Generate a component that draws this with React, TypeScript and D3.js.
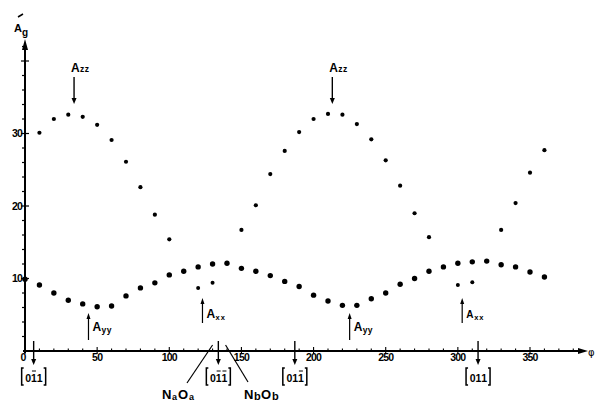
import React from "react";
import * as d3 from "d3";

const azzAngles = [10, 20, 30, 40, 50, 60, 70, 80, 90, 100, 150, 160, 170, 180, 190, 200, 210, 220, 230, 240, 250, 260, 270, 280, 330, 340, 350, 360];
const azzValues = [30.1, 32.0, 32.6, 32.3, 31.2, 29.1, 26.1, 22.6, 18.8, 15.4, 16.7, 20.1, 24.4, 27.6, 30.2, 32.0, 32.7, 32.6, 31.3, 29.2, 26.3, 22.8, 19.0, 15.7, 16.7, 20.4, 24.6, 27.7];

const lowAngles = [0, 10, 20, 30, 40, 50, 60, 70, 80, 90, 100, 110, 120, 130, 140, 150, 160, 170, 180, 190, 200, 210, 220, 230, 240, 250, 260, 270, 280, 290, 300, 310, 320, 330, 340, 350, 360];
const lowValues = [9.9, 9.1, 8.0, 7.0, 6.5, 6.1, 6.2, 7.6, 8.7, 9.4, 10.5, 11.0, 11.6, 12.0, 12.1, 11.4, 11.0, 10.4, 9.6, 8.9, 7.7, 6.9, 6.3, 6.3, 7.2, 8.0, 9.2, 10.0, 11.0, 11.6, 12.1, 12.3, 12.4, 11.9, 11.6, 10.9, 10.2];

const axxAngles = [120, 130, 300, 310];
const axxValues = [8.7, 9.4, 9.1, 9.5];

const xTickLabels = [0, 50, 100, 150, 200, 250, 300, 350];
const yTickLabels = [10, 20, 30];

const azzMarks = [34, 213];
const ayyMarks = [44, 225];
const axxMarks = [123, 303];

const dirAngles = [6, 134, 187, 314];
const dirLabels = [
  [["0", false], ["1", true], ["1", false]],
  [["0", false], ["1", true], ["1", true]],
  [["0", false], ["1", false], ["1", true]],
  [["0", false], ["1", false], ["1", false]],
] as [string, boolean][][];

export default function App() {
  const W = 596, H = 402;
  const x = d3.scaleLinear().domain([0, 350]).range([25, 530]);
  const y = d3.scaleLinear().domain([0, 30]).range([351, 133.5]);
  const x0 = x(0), yAxis = y(0);
  const font = "'Liberation Sans', Arial, sans-serif";

  const minorX = d3.range(0, 385, 10);
  const minorY = d3.range(2, 43, 2);

  const arrowDown = (px: number, y1: number, y2: number, key: string) => (
    <g key={key}>
      <line x1={px} x2={px} y1={y1} y2={y2 - 4} stroke="#000" strokeWidth={1.4} />
      <path d={`M${px - 2.5},${y2 - 6} L${px + 2.5},${y2 - 6} L${px},${y2} Z`} fill="#000" />
    </g>
  );
  const arrowUp = (px: number, y1: number, y2: number, key: string) => (
    <g key={key}>
      <line x1={px} x2={px} y1={y1 + 4} y2={y2} stroke="#000" strokeWidth={1.2} />
      <path d={`M${px - 2},${y1 + 6} L${px + 2},${y1 + 6} L${px},${y1} Z`} fill="#000" />
    </g>
  );

  return (
    <svg width={W} height={H} style={{ position: "absolute", left: 0, top: 0, background: "#fff" }} fontFamily={font}>
      <rect width={W} height={H} fill="#fff" />
      {/* y axis */}
      <line x1={x0} x2={x0} y1={yAxis + 2} y2={44} stroke="#000" strokeWidth={2} />
      <path d={`M${x0 - 3},${50} L${x0 + 3},${50} L${x0},${39} Z`} fill="#000" />
      {minorY.map((v) => (
        <line key={"my" + v} x1={x0 - (v % 10 === 0 ? 4 : 3)} x2={x0 + (v % 10 === 0 ? 4 : 0)} y1={y(v)} y2={y(v)} stroke="#000" strokeWidth={1.2} />
      ))}
      {yTickLabels.map((v) => (
        <text key={"yl" + v} x={x0 - 3} y={y(v) + 3.5} textAnchor="end" fontSize={10.5} fontWeight="bold" letterSpacing={-0.8}>{v}</text>
      ))}
      <text x={14} y={32} fontSize={11} fontWeight="bold">A</text>
      <text x={22} y={36} fontSize={10} fontWeight="bold">g</text>
      <path d="M18,17 L23,14" stroke="#000" strokeWidth={1.5} />

      {/* x axis */}
      <line x1={x0 - 2} x2={582} y1={yAxis} y2={yAxis} stroke="#000" strokeWidth={2} />
      <path d={`M${578},${yAxis - 3} L${578},${yAxis + 3} L${588},${yAxis} Z`} fill="#000" />
      {minorX.map((v) => (
        <line key={"mx" + v} x1={x(v)} x2={x(v)} y1={yAxis - (v % 50 === 0 ? 4 : 2.5)} y2={yAxis + (v % 50 === 0 ? 3 : 0)} stroke="#000" strokeWidth={1.1} />
      ))}
      {xTickLabels.map((v) => (
        <text key={"xl" + v} x={x(v) + (v === 0 ? -2 : 0)} y={yAxis + 10} textAnchor="middle" fontSize={10.5} fontWeight="bold" letterSpacing={-0.8}>{v}</text>
      ))}
      <text x={588} y={yAxis + 5} fontSize={10} fontFamily="'DejaVu Sans', sans-serif">φ</text>

      {/* data */}
      {azzAngles.map((a, i) => (
        <circle key={"az" + i} cx={x(a)} cy={y(azzValues[i])} r={2.1} fill="#000" />
      ))}
      {lowAngles.map((a, i) => (
        <circle key={"lo" + i} cx={x(a)} cy={y(lowValues[i])} r={2.7} fill="#000" />
      ))}
      {axxAngles.map((a, i) => (
        <circle key={"ax" + i} cx={x(a)} cy={y(axxValues[i])} r={2.0} fill="#000" />
      ))}

      {/* Azz annotations */}
      {azzMarks.map((a, i) => (
        <g key={"azz" + i}>
          <text x={x(a) - 3} y={72} fontSize={12} fontWeight="bold">A</text>
          <text x={x(a) + 6} y={72} fontSize={8.5} fontWeight="bold" letterSpacing={0.5}>zz</text>
          {arrowDown(x(a), 77, 104, "azza" + i)}
        </g>
      ))}
      {ayyMarks.map((a, i) => (
        <g key={"ayy" + i}>
          {arrowUp(x(a), 313, 340, "ayya" + i)}
          <text x={x(a) + 4} y={331} fontSize={12} fontWeight="bold">A</text>
          <text x={x(a) + 13} y={333} fontSize={8.5} fontWeight="bold" letterSpacing={0.5}>yy</text>
        </g>
      ))}
      {axxMarks.map((a, i) => (
        <g key={"axx" + i}>
          {arrowUp(x(a), 298, 323, "axxa" + i)}
          <text x={x(a) + 4} y={318} fontSize={i === 0 ? 12 : 10} fontWeight="bold">A</text>
          <text x={x(a) + (i === 0 ? 13 : 12)} y={320} fontSize={7.5} fontWeight="bold" letterSpacing={1}>xx</text>
        </g>
      ))}

      {/* direction markers */}
      {dirAngles.map((a, i) => {
        const px = x(a);
        const lab = dirLabels[i];
        const left = px - 12;
        return (
          <g key={"dir" + i}>
            {arrowDown(px, 341, 365, "da" + i)}
            <path d={`M${left + 2},368 L${left},368 L${left},385 L${left + 2},385`} fill="none" stroke="#000" strokeWidth={1.5} />
            <path d={`M${left + 22},368 L${left + 24},368 L${left + 24},385 L${left + 22},385`} fill="none" stroke="#000" strokeWidth={1.5} />
            {lab.map(([ch, bar], j) => (
              <g key={j}>
                <text x={left + 6.5 + j * 5.8} y={381.5} textAnchor="middle" fontSize={10.5} fontWeight="bold">{ch}</text>
                {bar && <line x1={left + 4.5 + j * 5.8} x2={left + 8.5 + j * 5.8} y1={371} y2={371} stroke="#000" strokeWidth={1} />}
              </g>
            ))}
          </g>
        );
      })}
      {/* NaOa / NbOb pointers */}
      <line x1={x(130)} y1={345} x2={187} y2={383} stroke="#000" strokeWidth={1.2} />
      <line x1={x(139)} y1={345} x2={248} y2={382} stroke="#000" strokeWidth={1.2} />
      <text x={162} y={399} fontSize={13} fontWeight="bold">N</text>
      <text x={172} y={400} fontSize={9} fontWeight="bold">a</text>
      <text x={178} y={399} fontSize={13} fontWeight="bold">O</text>
      <text x={189} y={400} fontSize={9} fontWeight="bold">a</text>
      <text x={244} y={399} fontSize={13} fontWeight="bold">N</text>
      <text x={254} y={400} fontSize={11} fontWeight="bold">b</text>
      <text x={261} y={399} fontSize={13} fontWeight="bold">O</text>
      <text x={272} y={400} fontSize={11} fontWeight="bold">b</text>
    </svg>
  );
}
